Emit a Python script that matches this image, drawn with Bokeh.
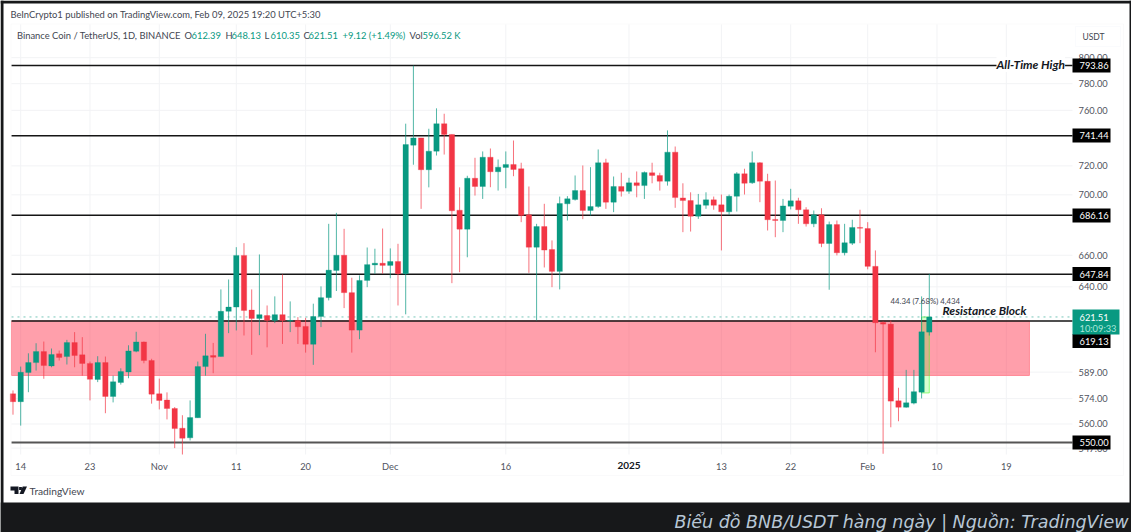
from bokeh.plotting import figure
from bokeh.models import (Range1d, FixedTicker, NumeralTickFormatter, Label, BoxAnnotation,
                          PolyAnnotation, ColumnDataSource)
from bokeh.embed import file_html
from bokeh.resources import INLINE

first_day = -1  # 13 Oct 2024; day 0 is 14 Oct 2024
opens = [576.7, 572.3, 588.8, 594.5, 600.9, 592.6, 599.6, 598.0, 606.2, 599.0,
         594.0, 584.8, 594.5, 575.2, 583.1, 589.1, 601.1, 606.6, 595.7, 576.7,
         573.2, 568.5, 557.7, 552.5, 563.4, 592.2, 598.6, 598.0, 624.9, 627.5,
         659.9, 625.7, 620.6, 622.4, 619.4, 622.9, 619.0, 619.4, 615.8, 605.2,
         621.8, 633.3, 650.3, 660.0, 636.4, 613.6, 644.0, 653.8, 654.9, 653.5,
         656.0, 648.2, 734.7, 739.9, 717.3, 730.4, 750.2, 742.4, 689.6, 677.0,
         711.4, 705.7, 726.1, 715.9, 718.9, 721.0, 718.0, 686.5, 665.2, 678.7,
         663.7, 649.7, 693.9, 696.8, 702.9, 689.4, 692.1, 722.2, 695.0, 705.7,
         702.4, 708.2, 706.3, 715.2, 713.3, 709.3, 729.7, 697.9, 696.1, 685.5,
         692.9, 696.6, 693.2, 688.5, 699.0, 714.5, 708.2, 722.2, 709.3, 683.4,
         682.7, 692.3, 695.9, 689.9, 680.5, 686.5, 667.6, 680.0, 661.6, 667.8,
         678.1, 677.4, 652.9, 618.2, 617.2, 572.8, 569.2, 571.5, 577.6, 612.39]
closes = [572.3, 588.9, 594.5, 600.9, 592.8, 599.2, 597.5, 606.2, 598.6, 594.0,
          584.9, 594.5, 575.2, 583.5, 589.3, 601.3, 606.6, 595.7, 576.5, 573.0,
          568.5, 557.5, 552.3, 563.5, 592.2, 598.4, 597.6, 624.9, 627.5, 659.9,
          625.5, 620.6, 622.9, 619.4, 622.9, 619.4, 619.4, 615.6, 605.2, 621.8,
          633.3, 650.5, 660.0, 636.4, 613.6, 644.0, 654.0, 654.9, 653.5, 656.0,
          648.2, 735.1, 739.9, 717.3, 730.4, 750.2, 742.4, 689.2, 677.0, 711.4,
          705.7, 726.1, 715.9, 719.1, 721.0, 717.5, 686.0, 665.2, 678.7, 663.3,
          649.7, 694.1, 697.3, 702.9, 689.4, 692.1, 722.2, 695.0, 705.7, 702.4,
          708.2, 706.3, 715.4, 713.3, 709.3, 729.7, 698.1, 696.1, 685.5, 693.2,
          696.6, 692.9, 688.5, 699.0, 714.5, 707.9, 722.2, 709.3, 683.2, 682.7,
          692.5, 695.9, 689.9, 680.5, 686.5, 667.6, 680.0, 661.6, 668.1, 678.1,
          677.6, 652.9, 618.0, 617.2, 572.6, 569.2, 571.7, 577.9, 612.6, 621.51]
highs = [578.6, 592.2, 599.9, 605.8, 606.8, 602.7, 601.5, 607.8, 612.4, 609.4,
         595.1, 598.2, 598.0, 587.0, 591.2, 604.6, 612.6, 606.8, 596.7, 585.3,
         577.5, 569.3, 564.8, 573.0, 595.1, 611.4, 606.0, 638.4, 644.6, 665.2,
         667.8, 638.4, 660.5, 628.5, 634.1, 647.8, 631.0, 621.4, 621.0, 629.6,
         640.3, 680.5, 687.8, 677.2, 645.7, 647.2, 665.0, 664.2, 677.4, 664.4,
         667.4, 750.2, 793.86, 739.9, 746.5, 761.5, 757.5, 742.4, 705.1, 713.1,
         725.7, 730.2, 732.3, 724.5, 730.2, 738.0, 722.2, 705.7, 680.5, 693.9,
         669.6, 698.8, 699.1, 713.3, 720.3, 719.1, 731.6, 725.0, 712.6, 715.2,
         711.7, 716.1, 716.1, 722.2, 715.2, 745.3, 733.7, 707.9, 701.7, 700.6,
         701.7, 698.8, 700.2, 700.2, 715.6, 718.0, 730.2, 722.6, 714.5, 709.8,
         697.2, 704.1, 698.0, 691.6, 689.4, 690.9, 682.0, 682.7, 680.5, 683.2,
         689.9, 681.6, 663.1, 618.8, 619.4, 580.1, 590.3, 590.3, 634.1, 648.13]
lows = [565.1, 559.1, 577.6, 589.9, 585.2, 591.8, 595.7, 593.4, 591.8, 587.0,
        573.0, 583.3, 565.9, 571.9, 581.9, 585.5, 600.5, 594.1, 571.2, 568.0,
        562.5, 547.0, 543.6, 551.1, 563.4, 587.0, 588.4, 598.0, 611.8, 613.4,
        610.4, 599.0, 610.6, 603.4, 617.8, 605.4, 612.4, 605.4, 600.3, 593.2,
        615.4, 631.6, 637.4, 626.9, 600.3, 608.2, 639.8, 648.2, 648.2, 645.4,
        628.5, 623.1, 720.8, 690.5, 705.1, 727.3, 728.0, 642.3, 649.2, 658.7,
        699.5, 697.2, 705.2, 702.9, 704.5, 712.8, 681.6, 648.8, 619.4, 652.2,
        639.8, 638.4, 682.7, 696.1, 683.6, 686.0, 691.2, 690.5, 688.3, 698.8,
        700.7, 698.3, 697.2, 707.9, 702.9, 706.3, 691.2, 675.0, 675.4, 683.8,
        690.5, 689.9, 663.1, 686.5, 688.7, 700.2, 707.5, 695.0, 676.1, 671.7,
        675.0, 690.1, 680.5, 678.7, 678.3, 665.2, 638.2, 659.9, 659.9, 666.6,
        667.8, 651.0, 600.5, 544.0, 558.2, 561.5, 569.0, 570.8, 574.1, 610.35]

level_values = [793.86, 741.44, 686.16, 647.84, 619.13, 550.00]
level_labels = ["793.86", "741.44", "686.16", "647.84", "619.13", "550.00"]
last_price = 621.51
zone_top = 619.13
zone_bottom = 587.1
zone_end_day = 131.0
measure_low = 577.17
measure_high = 621.51
measure_days = [117, 118]

price_ticks = [800, 780, 760, 720, 700, 660, 640, 589, 574, 560, 547]
tick_days = [0, 9, 18, 28, 37, 48, 63, 79, 91, 100, 110, 119, 128]
tick_labels = ["14", "23", "Nov", "11", "20", "Dec", "16", "", "13", "22", "Feb", "10", "19"]

GREEN = "#089981"
RED = "#f23645"
FONT = "Lato"
GREY = "#434651"
# edges of the chart pane in data units
PANE_L, PANE_R, PANE_B, PANE_T = -1.195, 136.6, 543.6, 826.3

days = list(range(first_day, first_day + len(opens)))
colors = [GREEN if c >= o else RED for o, c in zip(opens, closes)]
src = ColumnDataSource(dict(day=days, o=opens, c=closes, h=highs, l=lows, color=colors,
                            top=[max(a, b) for a, b in zip(opens, closes)],
                            bottom=[min(a, b) for a, b in zip(opens, closes)]))

p = figure(width=1131, height=532, y_axis_type="log", y_axis_location="right",
           x_range=Range1d(-2.623, 144.26), y_range=Range1d(503.85, 845.8),
           output_backend="svg", toolbar_location=None,
           min_border_left=0, min_border_top=0, min_border_right=0, min_border_bottom=0)
p.background_fill_color = "white"
p.border_fill_color = "white"
p.outline_line_color = None
p.grid.visible = False

p.xaxis.ticker = FixedTicker(ticks=tick_days)
p.xaxis.major_label_overrides = dict(zip(tick_days, tick_labels))
p.xaxis.fixed_location = PANE_B
p.yaxis.ticker = FixedTicker(ticks=price_ticks)
p.yaxis.formatter = NumeralTickFormatter(format="0.00")
p.yaxis.fixed_location = PANE_R
for ax in (p.xaxis[0], p.yaxis[0]):
    ax.axis_line_color = None
    ax.major_tick_line_color = None
    ax.minor_tick_line_color = None
    ax.major_tick_out = 0
    ax.major_tick_in = 0
    ax.minor_tick_out = 0
    ax.major_label_text_color = "#50535e"
    ax.major_label_text_font = FONT
    ax.major_label_text_font_size = "9.3px"
p.yaxis.major_label_standoff = 6
p.xaxis.major_label_standoff = 6

# faint grid, limited to the pane
p.segment(tick_days, PANE_B, tick_days, PANE_T, line_color="#f2f3f5", line_width=1)
p.segment(PANE_L, price_ticks, PANE_R, price_ticks, line_color="#f2f3f5", line_width=1)

# resistance zone
p.quad(left=PANE_L, right=zone_end_day, top=zone_top, bottom=zone_bottom,
       fill_color="#ff2a45", fill_alpha=0.45, line_color="#ff8a96", line_width=1)

# measure tool
p.quad(left=measure_days[0], right=measure_days[1], top=measure_high, bottom=measure_low,
       fill_color="#39ff14", fill_alpha=0.2, line_color="#39ff14", line_alpha=0.5, line_width=1)

# horizontal levels
for v in level_values:
    p.segment(PANE_L, v, PANE_R, v, line_color="#555555" if v == 550.00 else "#151515",
              line_width=2 if v == 550.00 else 1.5)
p.segment(PANE_L, last_price, PANE_R, last_price, line_color=GREEN, line_alpha=0.55,
          line_width=1, line_dash="dotted")

# candles
p.segment("day", "h", "day", "l", source=src, line_color="color", line_width=1, line_alpha=0.7)
p.vbar("day", 0.7, "top", "bottom", source=src, fill_color="color", line_color="color", line_alpha=0.3)


def text(x, y, s, color="#131722", size="9.4px", font=FONT, style="normal", align="left", bg=None):
    p.add_layout(Label(x=x, y=y, x_units="canvas", y_units="canvas", text=s,
                       text_color=color, text_font=font, text_font_size=size, text_font_style=style,
                       text_align=align, text_baseline="middle", background_fill_color=bg))


def box(l, r, t, b, color, line=None):
    p.add_layout(BoxAnnotation(left=l, right=r, top=t, bottom=b,
                               left_units="canvas", right_units="canvas",
                               top_units="canvas", bottom_units="canvas",
                               fill_color=color, fill_alpha=1, line_color=line))


# pane frame, dark surround
box(10.5, 1123, 23.5, 475, None, "#eef0f3")
box(0, 1131, 502, 532, "#17181a")
box(0, 1131, 0, 3, "#17181a")
box(0, 3, 0, 532, "#17181a")
box(1129, 1131, 0, 532, "#17181a")

# header
text(10, 14, "BeInCrypto1 published on TradingView.com, Feb 09, 2025 19:20 UTC+5:30", color=GREY)
text(16.5, 35, "Binance Coin / TetherUS, 1D, BINANCE", color=GREY)
for x, s, c in [(184, "O", GREY), (191, "612.39", GREEN), (225, "H", GREY), (231, "648.13", GREEN),
                (264, "L", GREY), (270, "610.35", GREEN), (303, "C", GREY), (308, "621.51", GREEN),
                (342, "+9.12 (+1.49%)", GREEN), (409, "Vol", GREY), (422, "596.52 K", GREEN)]:
    text(x, 35, s, color=c)

# price axis tags
tag_centres = [65, 135, 215, 273.5, 340.5, 442]
for cy, s in zip(tag_centres, level_labels):
    box(1072, 1110, cy - 7, cy + 7, "#000000")
    text(1079, cy, s, color="white", size="9.3px")
box(1072, 1119, 309, 334, GREEN)
text(1079, 316.5, "621.51", color="white", size="9.3px")
text(1079, 327.5, "10:09:33", color="#a9e6da", size="9.3px")
box(1075, 1120, 26, 46, None, "#f0f3fa")
text(1082, 36, "USDT", color=GREY, size="8.5px")

# drawings
text(996, 64, "All-Time High", color="#131722", style="bold italic", size="12px", bg="white")
text(942, 310, "Resistance Block", color="#131722", style="bold italic", size="12px")
text(890, 300, "44.34 (7.68%) 4,434", color=GREY, size="7.8px")

# bold year on the time axis
text(628.5, 465, "2025", color="#131722", style="bold", size="10px", align="center")

# TradingView mark
for xs, ys in [([10, 18, 18, 14, 14, 10], [486, 486, 493.5, 493.5, 490, 490]),
               ([18.6, 21.4, 21.4, 18.6], [486.5, 486.5, 489.5, 489.5]),
               ([22.2, 26.5, 23, 19], [486, 486, 493.5, 493.5])]:
    p.add_layout(PolyAnnotation(xs=xs, ys=ys, xs_units="canvas", ys_units="canvas",
                                fill_color="#131722", fill_alpha=1, line_color=None))
text(29, 490, "TradingView", color=GREY, size="10.2px")

# caption
text(1128, 521, "Biểu đồ BNB/USDT hàng ngày | Nguồn: TradingView", color="#b8c7d6",
     size="17.5px", font="DejaVu Sans", style="italic", align="right")

open("out.html", "w").write(file_html(p, INLINE))
